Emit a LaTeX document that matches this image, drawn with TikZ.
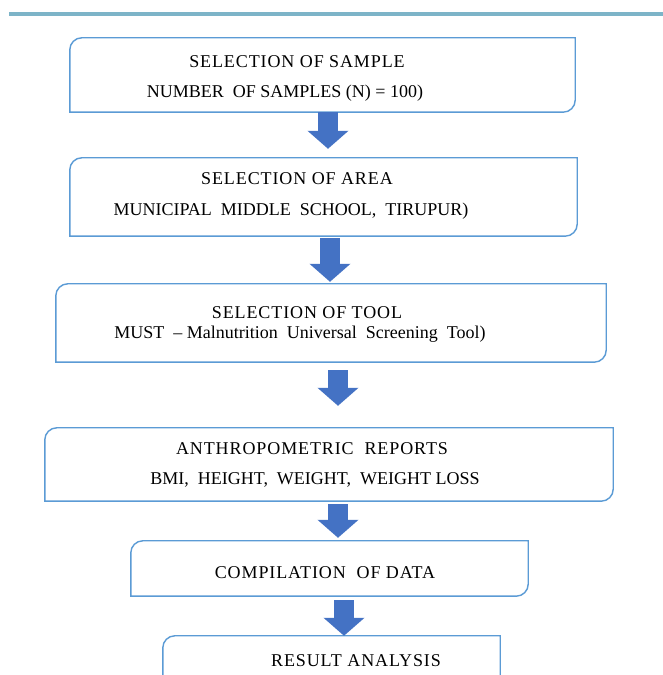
\documentclass[tikz,border=0pt]{standalone}
\usepackage{fontspec}
\setmainfont{Liberation Serif}
\usetikzlibrary{arrows.meta}
\definecolor{boxblue}{HTML}{5B9BD5}
\definecolor{arrowblue}{HTML}{4472C4}
\definecolor{topline}{HTML}{7DB4C8}
\tikzset{
  x=1pt, y=1pt,
  frame/.style={draw=none, inner sep=0pt},
  lbl/.style={inner sep=0pt, font=\fontsize{18}{20}\selectfont},
  ttl/.style={inner sep=0pt, font=\fontsize{18}{20}\selectfont\addfontfeatures{LetterSpace=5}},
  flow/.style={draw=arrowblue, line width=20pt, -{Triangle[width=40pt,length=18pt]}},
  outline/.style={draw=boxblue, line width=1.4pt},
}
\newcommand{\diagbox}[1]{%
  \draw[outline] (#1.south west) -- ([yshift=-12pt]#1.north west)
    arc[start angle=180, end angle=90, radius=12pt] -- (#1.north east)
    -- ([yshift=12pt]#1.south east)
    arc[start angle=0, end angle=-90, radius=12pt] -- cycle;}
\begin{document}
\begin{tikzpicture}
\clip (0,0) rectangle (663,675);
\fill[white] (0,0) rectangle (663,675);
\coordinate (tl) at (9,661);
\coordinate (tr) at (663,661);
\draw[topline, line width=4pt] (tl) -- (tr);
% boxes (y = 675 - ypx)
\node[frame, minimum width=505, minimum height=74] (b1) at (322.5,600) {};
\node[frame, minimum width=507, minimum height=78] (b2) at (323.5,478) {};
\node[frame, minimum width=550, minimum height=78] (b3) at (331,352) {};
\node[frame, minimum width=568, minimum height=73] (b4) at (329,210.5) {};
\node[frame, minimum width=397, minimum height=55] (b5) at (329.5,106.5) {};
\node[frame, minimum width=337, minimum height=70] (b6) at (331.5,4) {};
\diagbox{b1}\diagbox{b2}\diagbox{b3}\diagbox{b4}\diagbox{b5}\diagbox{b6}
% texts
\node[ttl] (t1a) at (297,613) {SELECTION OF SAMPLE};
\node[lbl] (t1b) at (285,582) {NUMBER\ \ OF\ SAMPLES\ (N) = 100)};
\node[ttl] (t2a) at (297,496) {SELECTION OF AREA};
\node[lbl] (t2b) at (291,464) {MUNICIPAL\ \ MIDDLE\ \ SCHOOL,\ \ TIRUPUR)};
\node[ttl] (t3a) at (307,362) {SELECTION OF TOOL};
\node[lbl] (t3b) at (300,341) {MUST\ \ -- Malnutrition\ \ Universal\ \ Screening\ \ Tool)};
\node[ttl] (t4a) at (312,226) {ANTHROPOMETRIC\ \ REPORTS};
\node[lbl] (t4b) at (315,195) {BMI,\ \ HEIGHT,\ \ WEIGHT,\ \ WEIGHT LOSS};
\node[ttl] (t5) at (325,102) {COMPILATION\ \ OF DATA};
\node[ttl] (t6) at (356,14) {RESULT ANALYSIS};
% arrows
\coordinate (ax1) at (328,0);
\coordinate (ax2) at (330,0);
\coordinate (ax3) at (338,0);
\coordinate (ax4) at (338,0);
\coordinate (ax5) at (344,0);
\draw[flow] (b1.south -| ax1) -- ([yshift=9pt]b2.north -| ax1);
\draw[flow] ([yshift=-2pt]b2.south -| ax2) -- ([yshift=2pt]b3.north -| ax2);
\draw[flow] ([yshift=-8pt]b3.south -| ax3) -- ([yshift=22pt]b4.north -| ax3);
\draw[flow] ([yshift=-3pt]b4.south -| ax4) -- ([yshift=3pt]b5.north -| ax4);
\draw[flow] ([yshift=-4pt]b5.south -| ax5) -- (b6.north -| ax5);
\end{tikzpicture}
\end{document}
